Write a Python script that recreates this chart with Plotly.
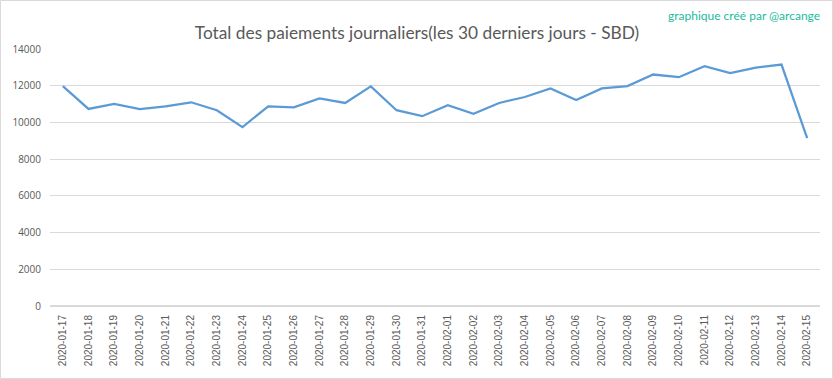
import plotly.graph_objects as go

dates = ["2020-01-17","2020-01-18","2020-01-19","2020-01-20","2020-01-21","2020-01-22",
         "2020-01-23","2020-01-24","2020-01-25","2020-01-26","2020-01-27","2020-01-28",
         "2020-01-29","2020-01-30","2020-01-31","2020-02-01","2020-02-02","2020-02-03",
         "2020-02-04","2020-02-05","2020-02-06","2020-02-07","2020-02-08","2020-02-09",
         "2020-02-10","2020-02-11","2020-02-12","2020-02-13","2020-02-14","2020-02-15"]
payments = [11980, 10735, 11005, 10720, 10880, 11097,
            10665, 9746, 10880, 10827, 11313, 11060,
            11962, 10665, 10340, 10935, 10465, 11060,
            11384, 11854, 11222, 11854, 11980, 12610,
            12465, 13060, 12681, 12989, 13151, 9146]
y_ticks = [0, 2000, 4000, 6000, 8000, 10000, 12000, 14000]
y_tick_labels = ["0", "2000", "4000", "6000", "8000", "10000", "12000", "14000"]

W, H = 833, 379
L, R, T, B = 50, 13, 49, 73
pw, ph = W - L - R, H - T - B

fig = go.Figure()
fig.add_trace(go.Scatter(x=dates, y=payments, mode="lines",
                         line=dict(color="#5b9bd5", width=2.25), hoverinfo="x+y"))

fig.update_layout(
    width=W, height=H,
    margin=dict(l=L, r=R, t=T, b=B, autoexpand=False),
    paper_bgcolor="white", plot_bgcolor="white",
    showlegend=False,
    font=dict(family="Open Sans", color="#595959", size=11),
    title=dict(text="Total des paiements journaliers(les 30 derniers jours - SBD)",
               x=417 / W, xanchor="center", y=1 - 33 / H, yanchor="middle",
               font=dict(family="Lato", size=17.3, color="#595959")),
    xaxis=dict(type="category", range=[-0.5, len(dates) - 0.5], tickangle=-90,
               showgrid=False, ticks="", showline=False, zeroline=False,
               automargin=False, ticklabelstandoff=6,
               tickfont=dict(family="Liberation Sans", size=10, color="#595959")),
    yaxis=dict(range=[0, 14000], tickvals=y_ticks, ticktext=y_tick_labels, showgrid=True,
               gridcolor="#d9d9d9", gridwidth=1, zeroline=True, zerolinecolor="#d9d9d9",
               showline=False, ticks="", ticklabelstandoff=8, automargin=False,
               tickfont=dict(family="Open Sans", size=10, color="#595959")),
    annotations=[dict(text="graphique créé par @arcange", xref="paper", yref="paper",
                      x=(822 - L) / pw, y=(H - 15 - B) / ph, xanchor="right", yanchor="middle",
                      showarrow=False,
                      font=dict(family="Lato", size=12, color="#1abc9c"))],
    shapes=[dict(type="rect", xref="paper", yref="paper",
                 x0=(-L + 0.5) / pw, x1=(W - L - 0.5) / pw,
                 y0=(-B + 0.5) / ph, y1=(H - B - 0.5) / ph,
                 line=dict(color="#d9d9d9", width=1), layer="below")],
)

fig.write_html("out.html", config={"displayModeBar": False},
               post_script="document.body.style.margin='0';document.body.style.overflow='hidden';")
